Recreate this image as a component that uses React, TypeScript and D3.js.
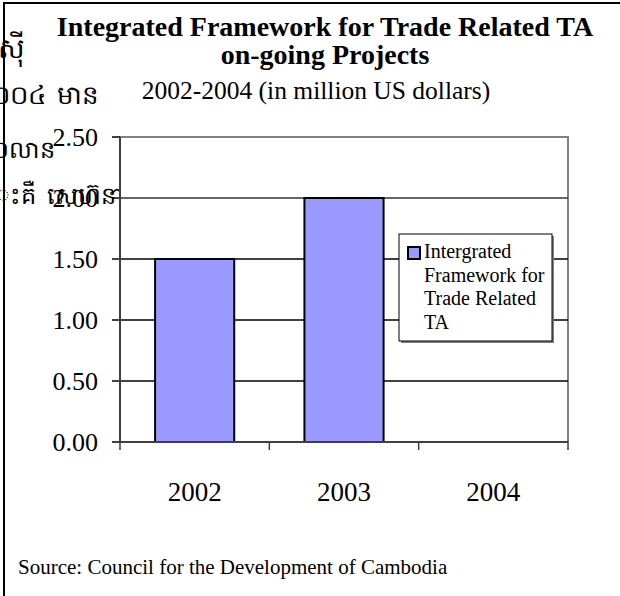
import * as d3 from "d3";
import { useEffect, useRef } from "react";

// data
const years = ["2002", "2003", "2004"];
const values = [1.5, 2.0, 0];
const yTicks = [0, 0.5, 1.0, 1.5, 2.0, 2.5];
const titleLines = ["Integrated Framework for Trade Related TA", "on-going Projects"];
const subtitle = "2002-2004 (in million US dollars)";
const legendLines = ["Intergrated", "Framework for", "Trade Related", "TA"];
const sourceNote = "Source: Council for the Development of Cambodia";
// stray Khmer text from the page behind the chart
const khmerBits = [
    { text: "ស៊ី", x: -2, y: 58, size: 28 },
    { text: "០០៤ មាន", x: -8, y: 104, size: 26 },
    { text: "០លាន", x: -8, y: 158, size: 24 },
    { text: "ះគឺ សេហ៊នាវ", x: -4, y: 204, size: 24 }
];

const App = () => {
    const svgRef = useRef<SVGSVGElement | null>(null);

    useEffect(() => {
        if (!svgRef.current) return;

        const width = 620;
        const height = 596;
        const plot = { left: 120, right: 568, top: 137, bottom: 442 };
        const serif = "'Liberation Serif', 'Times New Roman', serif";

        const svg = d3.select(svgRef.current)
            .attr("width", width)
            .attr("height", height)
            .style("background", "#fff");

        svg.selectAll("*").remove();

        // Khmer text underneath the chart
        svg.append("g")
            .selectAll("text")
            .data(khmerBits)
            .join("text")
            .attr("x", d => d.x)
            .attr("y", d => d.y)
            .attr("font-family", "'DejaVu Sans', sans-serif")
            .attr("font-size", d => d.size)
            .attr("word-spacing", 3)
            .attr("fill", "#000")
            .text(d => d.text);

        // frame lines
        svg.append("line")
            .attr("x1", 3).attr("x2", width)
            .attr("y1", 3).attr("y2", 3)
            .attr("stroke", "#000").attr("stroke-width", 2);
        svg.append("line")
            .attr("x1", 4).attr("x2", 4)
            .attr("y1", 3).attr("y2", height)
            .attr("stroke", "#000").attr("stroke-width", 2);

        // scales
        const x = d3.scaleBand<string>()
            .domain(years)
            .range([plot.left, plot.right])
            .paddingInner(0.47)
            .paddingOuter(0.235);

        const y = d3.scaleLinear()
            .domain([0, 2.5])
            .range([plot.bottom, plot.top]);

        // plot area
        svg.append("rect")
            .attr("x", plot.left)
            .attr("y", plot.top)
            .attr("width", plot.right - plot.left)
            .attr("height", plot.bottom - plot.top)
            .attr("fill", "#fff")
            .attr("stroke", "#808080")
            .attr("stroke-width", 2);

        // gridlines
        svg.append("g")
            .selectAll("line")
            .data(yTicks.filter(t => t > 0 && t < 2.5))
            .join("line")
            .attr("x1", plot.left).attr("x2", plot.right)
            .attr("y1", d => y(d)).attr("y2", d => y(d))
            .attr("stroke", d => (d === 2 ? "#333" : "#000"))
            .attr("stroke-width", 1.5);

        // y tick labels
        svg.append("g")
            .selectAll("text")
            .data(yTicks)
            .join("text")
            .attr("x", 98)
            .attr("y", d => y(d) + 9)
            .attr("text-anchor", "end")
            .attr("font-family", serif)
            .attr("font-size", 26)
            .text(d => d.toFixed(2));

        // y tick marks
        svg.append("g")
            .selectAll("line")
            .data(yTicks)
            .join("line")
            .attr("x1", plot.left - 8).attr("x2", plot.left)
            .attr("y1", d => y(d)).attr("y2", d => y(d))
            .attr("stroke", "#000").attr("stroke-width", 1.5);

        // bars
        svg.append("g")
            .selectAll("rect")
            .data(years.map((yr, i) => ({ yr, v: values[i] })).filter(d => d.v > 0))
            .join("rect")
            .attr("x", d => x(d.yr)!)
            .attr("y", d => y(d.v))
            .attr("width", x.bandwidth())
            .attr("height", d => y(0) - y(d.v))
            .attr("fill", "#9999ff")
            .attr("stroke", "#000")
            .attr("stroke-width", 2);

        // axis lines
        svg.append("line")
            .attr("x1", plot.left).attr("x2", plot.left)
            .attr("y1", plot.top).attr("y2", plot.bottom)
            .attr("stroke", "#404040").attr("stroke-width", 2);
        svg.append("line")
            .attr("x1", plot.left).attr("x2", plot.right)
            .attr("y1", plot.bottom).attr("y2", plot.bottom)
            .attr("stroke", "#404040").attr("stroke-width", 2);

        // x tick marks between categories
        const step = x.step();
        svg.append("g")
            .selectAll("line")
            .data(d3.range(years.length + 1))
            .join("line")
            .attr("x1", i => plot.left + i * step)
            .attr("x2", i => plot.left + i * step)
            .attr("y1", plot.bottom).attr("y2", plot.bottom + 8)
            .attr("stroke", "#404040").attr("stroke-width", 1.5);

        // x labels
        svg.append("g")
            .selectAll("text")
            .data(years)
            .join("text")
            .attr("x", d => x(d)! + x.bandwidth() / 2)
            .attr("y", 501)
            .attr("text-anchor", "middle")
            .attr("font-family", serif)
            .attr("font-size", 27)
            .text(d => d);

        // title
        svg.append("g")
            .selectAll("text")
            .data(titleLines)
            .join("text")
            .attr("x", 325)
            .attr("y", (_, i) => 36 + i * 28)
            .attr("text-anchor", "middle")
            .attr("font-family", serif)
            .attr("font-weight", "bold")
            .attr("font-size", 28)
            .text(d => d);

        svg.append("text")
            .attr("x", 316)
            .attr("y", 99)
            .attr("text-anchor", "middle")
            .attr("font-family", serif)
            .attr("font-size", 25.5)
            .text(subtitle);

        // legend
        const lg = svg.append("g");
        lg.append("rect")
            .attr("x", 401).attr("y", 236)
            .attr("width", 153).attr("height", 107)
            .attr("fill", "#808080");
        lg.append("rect")
            .attr("x", 399).attr("y", 234)
            .attr("width", 153).attr("height", 107)
            .attr("fill", "#fff")
            .attr("stroke", "#000").attr("stroke-width", 1);
        lg.append("rect")
            .attr("x", 408).attr("y", 247)
            .attr("width", 12).attr("height", 12)
            .attr("fill", "#9999ff")
            .attr("stroke", "#000").attr("stroke-width", 2);
        lg.selectAll("text.lgt")
            .data(legendLines)
            .join("text")
            .attr("class", "lgt")
            .attr("x", 424)
            .attr("y", (_, i) => 258 + i * 23.5)
            .attr("font-family", serif)
            .attr("font-size", 20)
            .text(d => d);

        // source note
        svg.append("text")
            .attr("x", 18)
            .attr("y", 574)
            .attr("font-family", serif)
            .attr("font-size", 21)
            .text(sourceNote);
    }, []);

    return <svg ref={svgRef} style={{ position: "absolute", left: 0, top: 0 }}></svg>;
};

export default App;
